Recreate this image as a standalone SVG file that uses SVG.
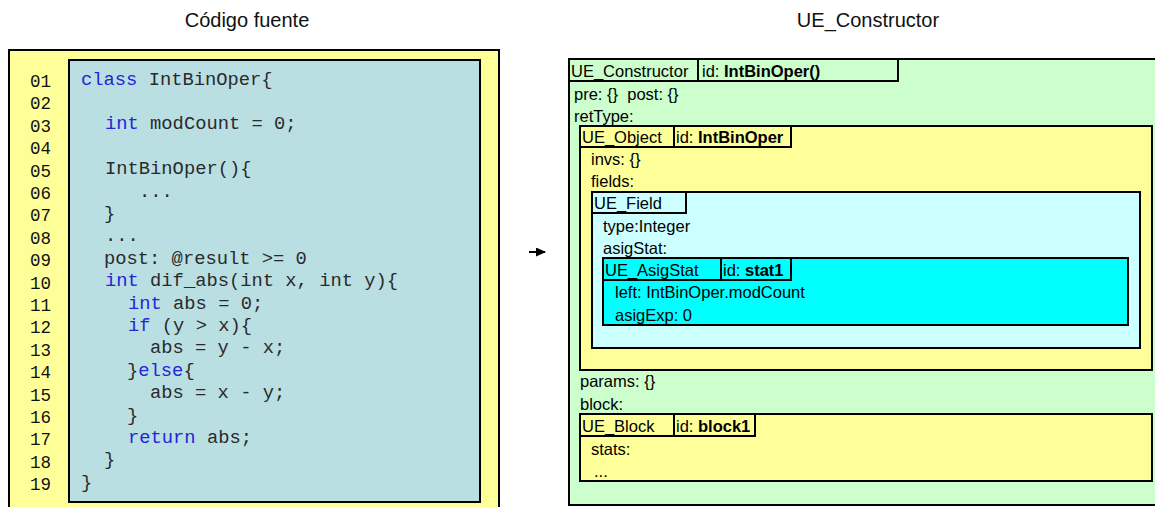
<svg xmlns="http://www.w3.org/2000/svg" width="1155" height="507" viewBox="0 0 1155 507">
  <defs>
    <style>
      .title { font-family: "Liberation Sans", Arial, sans-serif; font-size: 20px; fill: #111; text-anchor: middle; }
      .box { stroke: #000; stroke-width: 2; }
      .cell { fill: none; stroke: #000; stroke-width: 2; }
      .t { font-family: "Liberation Sans", Arial, sans-serif; font-size: 16.5px; fill: #000; white-space: pre; }
      .b { font-weight: bold; }
      .num { font-family: "Liberation Mono", "Courier New", monospace; font-size: 17.5px; fill: #111; }
      .code { font-family: "Liberation Mono", "Courier New", monospace; font-size: 18.8px; fill: #2a2a2a; white-space: pre; }
      .kw { fill: #2424D8; }
      .yellow { fill: #FFFF99; }
      .code-bg { fill: #BADFE3; }
      .green { fill: #CCFFCC; }
      .lcyan { fill: #CCFFFF; }
      .cyan { fill: #00FFFF; }
    </style>
    <marker id="arrowhead" markerWidth="10" markerHeight="9" refX="9" refY="4.5" orient="auto" markerUnits="userSpaceOnUse">
      <path d="M0,0 L10,4.5 L0,9 z" fill="#000"/>
    </marker>
  </defs>

  <rect width="1155" height="507" fill="#fff"/>

  <!-- panel titles -->
  <text class="title" x="247" y="27">Código fuente</text>
  <text class="title" x="868" y="27">UE_Constructor</text>

  <!-- source code listing -->
  <g id="source-code">
    <rect class="box yellow" x="9" y="50" width="490" height="470"/>
    <rect class="box code-bg" x="69" y="60" width="411" height="442"/>
    <g class="num">
      <text x="30" y="87">01</text>
      <text x="30" y="109.4">02</text>
      <text x="30" y="131.8">03</text>
      <text x="30" y="154.2">04</text>
      <text x="30" y="176.6">05</text>
      <text x="30" y="199">06</text>
      <text x="30" y="221.4">07</text>
      <text x="30" y="243.8">08</text>
      <text x="30" y="266.2">09</text>
      <text x="30" y="288.6">10</text>
      <text x="30" y="311">11</text>
      <text x="30" y="333.4">12</text>
      <text x="30" y="355.8">13</text>
      <text x="30" y="378.2">14</text>
      <text x="30" y="400.6">15</text>
      <text x="30" y="423">16</text>
      <text x="30" y="445.4">17</text>
      <text x="30" y="467.8">18</text>
      <text x="30" y="490.2">19</text>
    </g>
    <g class="code">
      <text x="81" y="84.5"><tspan class="kw">class</tspan> IntBinOper{</text>
      <text x="105" y="129.3"><tspan class="kw">int</tspan> modCount = 0;</text>
      <text x="105" y="174.1">IntBinOper(){</text>
      <text x="139" y="196.5">...</text>
      <text x="104" y="218.9">}</text>
      <text x="105" y="241.3">...</text>
      <text x="104" y="263.7">post: @result &gt;= 0</text>
      <text x="105" y="286.1"><tspan class="kw">int</tspan> dif_abs(int x, int y){</text>
      <text x="128" y="308.5"><tspan class="kw">int</tspan> abs = 0;</text>
      <text x="128" y="330.9"><tspan class="kw">if</tspan> (y &gt; x){</text>
      <text x="150" y="353.3">abs = y - x;</text>
      <text x="127" y="375.7">}<tspan class="kw">else</tspan>{</text>
      <text x="150" y="398.1">abs = x - y;</text>
      <text x="127" y="420.5">}</text>
      <text x="128" y="442.9"><tspan class="kw">return</tspan> abs;</text>
      <text x="104" y="465.3">}</text>
      <text x="81" y="487.7">}</text>
    </g>
  </g>

  <!-- connector between the two panels -->
  <g id="connectors">
    <line x1="529" y1="252" x2="545" y2="252" stroke="#000" stroke-width="2" marker-end="url(#arrowhead)"/>
  </g>

  <!-- UE_Constructor -->
  <g id="ue-constructor">
    <rect class="box green" x="569" y="59" width="600" height="446"/>
    <rect class="cell" x="569" y="59" width="129" height="22"/>
    <rect class="cell" x="698" y="59" width="200" height="22"/>
    <text class="t" x="571" y="77">UE_Constructor</text>
    <text class="t" x="702" y="77">id: <tspan class="b">IntBinOper()</tspan></text>
    <text class="t" x="574" y="100" xml:space="preserve">pre: {}  post: {}</text>
    <text class="t" x="574" y="122">retType:</text>
    <text class="t" x="580" y="387">params: {}</text>
    <text class="t" x="580" y="410">block:</text>
  </g>

  <!-- UE_Object -->
  <g id="ue-object">
    <rect class="box yellow" x="580" y="126" width="572" height="244"/>
    <rect class="cell" x="580" y="126" width="94" height="21"/>
    <rect class="cell" x="674" y="126" width="117" height="21"/>
    <text class="t" x="582" y="143">UE_Object</text>
    <text class="t" x="676" y="143">id: <tspan class="b">IntBinOper</tspan></text>
    <text class="t" x="591" y="165">invs: {}</text>
    <text class="t" x="591" y="187">fields:</text>
  </g>

  <!-- UE_Field -->
  <g id="ue-field">
    <rect class="box lcyan" x="592" y="192" width="548" height="156"/>
    <rect class="cell" x="592" y="192" width="94" height="21"/>
    <text class="t" x="594" y="209">UE_Field</text>
    <text class="t" x="603" y="232">type:Integer</text>
    <text class="t" x="603" y="254">asigStat:</text>
  </g>

  <!-- UE_AsigStat -->
  <g id="ue-asigstat">
    <rect class="box cyan" x="603" y="258" width="525" height="67"/>
    <rect class="cell" x="603" y="258" width="118" height="22"/>
    <rect class="cell" x="721" y="258" width="70" height="22"/>
    <text class="t" x="605" y="276">UE_AsigStat</text>
    <text class="t" x="723" y="276">id: <tspan class="b">stat1</tspan></text>
    <text class="t" x="615" y="298">left: IntBinOper.modCount</text>
    <text class="t" x="615" y="321">asigExp: 0</text>
  </g>

  <!-- UE_Block -->
  <g id="ue-block">
    <rect class="box yellow" x="580" y="414" width="572" height="67"/>
    <rect class="cell" x="580" y="414" width="94" height="22"/>
    <rect class="cell" x="674" y="414" width="81" height="22"/>
    <text class="t" x="582" y="432">UE_Block</text>
    <text class="t" x="676" y="432">id: <tspan class="b">block1</tspan></text>
    <text class="t" x="591" y="455">stats:</text>
    <text class="t" x="594" y="477">...</text>
  </g>
</svg>
